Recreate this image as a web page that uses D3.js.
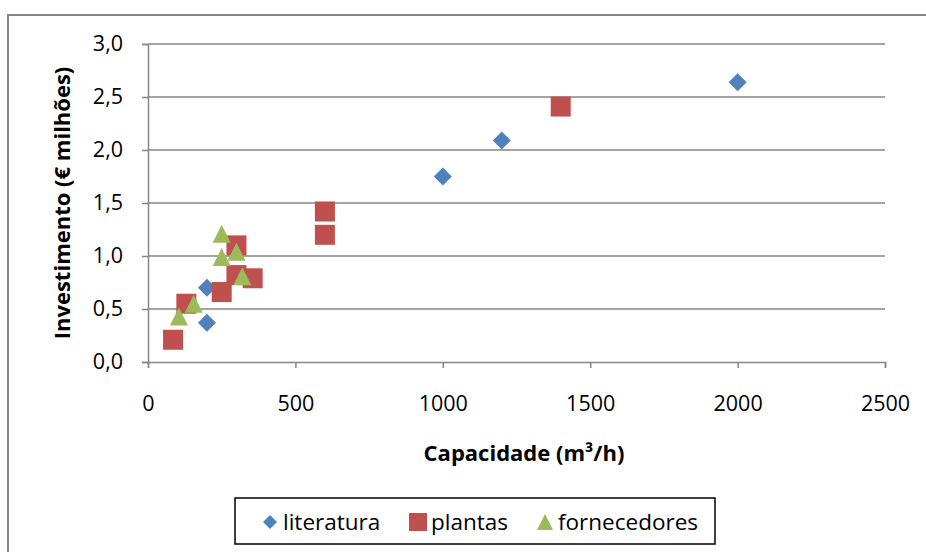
<!DOCTYPE html>
<html>
<head>
<meta charset="utf-8">
<script src="https://cdn.jsdelivr.net/npm/d3@7"></script>
<style>
  body { margin: 0; background: #fff; }
  svg { display: block; }
  .tick text { font-family: "Open Sans", sans-serif; font-size: 21.5px; fill: #000; }
</style>
</head>
<body>
<div id="chart"></div>
<script>
// data
var literaturaCap = [200, 200, 1000, 1200, 2000];
var literaturaInv = [0.70, 0.37, 1.75, 2.09, 2.64];

var plantasCap = [85, 130, 250, 300, 300, 355, 600, 600, 1400];
var plantasInv = [0.21, 0.55, 0.66, 1.10, 0.82, 0.79, 1.42, 1.20, 2.41];

var fornecedoresCap = [105, 155, 250, 250, 300, 320];
var fornecedoresInv = [0.43, 0.55, 1.21, 0.99, 1.04, 0.81];

var xTicks = [0, 500, 1000, 1500, 2000, 2500];
var yTicks = [0, 0.5, 1.0, 1.5, 2.0, 2.5, 3.0];

var series = [
  {name: "literatura", cap: literaturaCap, inv: literaturaInv, color: "#4F81BD", shape: "diamond"},
  {name: "plantas", cap: plantasCap, inv: plantasInv, color: "#C0504D", shape: "square"},
  {name: "fornecedores", cap: fornecedoresCap, inv: fornecedoresInv, color: "#9BBB59", shape: "triangle"}
];

var W = 926, H = 552;
var margin = {top: 44, left: 148, right: 926 - 885, bottom: 552 - 362};

var svg = d3.select("#chart").append("svg")
  .attr("width", W)
  .attr("height", H);

// outer chart border
svg.append("rect")
  .attr("x", 8).attr("y", 15)
  .attr("width", 1000).attr("height", 1000)
  .attr("fill", "none")
  .attr("stroke", "#868686")
  .attr("stroke-width", 2);

var x = d3.scaleLinear().domain([0, 2500]).range([margin.left, W - margin.right]);
var y = d3.scaleLinear().domain([0, 3]).range([H - margin.bottom, margin.top]);

var ptBR = d3.formatLocale({decimal: ",", thousands: ".", grouping: [3], currency: ["€", ""]});
var fmtY = ptBR.format(".1f");

// gridlines
svg.append("g")
  .selectAll("line")
  .data(yTicks.slice(1))
  .enter().append("line")
    .attr("x1", x(0)).attr("x2", x(2500))
    .attr("y1", function(d) { return y(d); })
    .attr("y2", function(d) { return y(d); })
    .attr("stroke", "#868686")
    .attr("stroke-width", 1.5);

// Y axis
var yAxis = svg.append("g")
  .attr("transform", "translate(" + x(0) + ",0)")
  .call(d3.axisLeft(y).tickValues(yTicks).tickFormat(fmtY).tickSizeOuter(0).tickSize(6).tickPadding(19));
yAxis.select(".domain").attr("stroke", "#868686").attr("stroke-width", 1.5);
yAxis.selectAll(".tick line").attr("stroke", "#868686").attr("stroke-width", 1.5);

// X axis
var xAxis = svg.append("g")
  .attr("transform", "translate(0," + y(0) + ")")
  .call(d3.axisBottom(x).tickValues(xTicks).tickFormat(d3.format("d")).tickSizeOuter(0).tickSize(6).tickPadding(28));
xAxis.select(".domain").attr("stroke", "#868686").attr("stroke-width", 1.5);
xAxis.selectAll(".tick line").attr("stroke", "#868686").attr("stroke-width", 1.5);

// axis titles
svg.append("text")
  .attr("x", 524)
  .attr("y", 453)
  .attr("dy", "0.35em")
  .attr("text-anchor", "middle")
  .style("font-family", "Open Sans, sans-serif")
  .style("font-weight", "bold")
  .style("font-size", "22px")
  .text("Capacidade (m³/h)");

svg.append("text")
  .attr("transform", "translate(62,203) rotate(-90)")
  .attr("dy", "0.35em")
  .attr("text-anchor", "middle")
  .style("font-family", "Open Sans, sans-serif")
  .style("font-weight", "bold")
  .style("font-size", "22px")
  .text("Investimento (€ milhões)");

// marker paths, centred on their box like the spreadsheet markers
function markerPath(shape, r) {
  if (shape == "diamond") return "M0," + (-r) + "L" + r + ",0L0," + r + "L" + (-r) + ",0Z";
  if (shape == "square") return "M" + (-r) + "," + (-r) + "H" + r + "V" + r + "H" + (-r) + "Z";
  return "M0," + (-r) + "L" + r + "," + r + "H" + (-r) + "Z";
}
var markerR = {diamond: 9, square: 10, triangle: 9};

// points
series.forEach(function(s) {
  svg.append("g")
    .selectAll("path")
    .data(s.cap.map(function(c, i) { return [c, s.inv[i]]; }))
    .enter().append("path")
      .attr("d", markerPath(s.shape, markerR[s.shape]))
      .attr("fill", s.color)
      .attr("transform", function(d) {
        return "translate(" + x(d[0]) + "," + y(d[1]) + ")";
      });
});

// legend
var legend = svg.append("g");
legend.append("rect")
  .attr("x", 235).attr("y", 498)
  .attr("width", 480).attr("height", 46)
  .attr("fill", "#fff")
  .attr("stroke", "#000")
  .attr("stroke-width", 1.5);

var legendX = [270, 418, 545];
var legendR = {diamond: 7, square: 9, triangle: 8};
series.forEach(function(s, i) {
  var g = legend.append("g").attr("transform", "translate(" + legendX[i] + ",522)");
  g.append("path")
    .attr("d", markerPath(s.shape, legendR[s.shape]))
    .attr("fill", s.color);
  g.append("text")
    .attr("x", 13)
    .attr("dy", "0.35em")
    .style("font-family", "Open Sans, sans-serif")
    .style("font-size", "22.5px")
    .text(s.name);
});
</script>
</body>
</html>
